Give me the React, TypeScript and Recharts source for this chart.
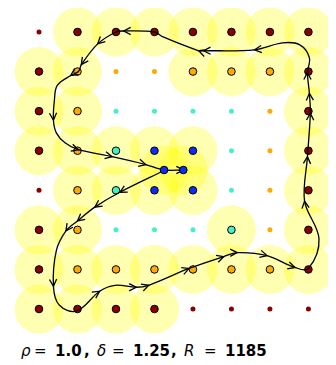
import { ScatterChart, Scatter, XAxis, YAxis } from "recharts";

// grid cells, row by row from the top: r = dark red, o = orange, t = turquoise, b = blue
const gridColours = [
  "rrrrrrrr",
  "roooooor",
  "rottttor",
  "rotbbtor",
  "rotbbtor",
  "rottttor",
  "roooooor",
  "rrrrrrrr",
];

// 1 = sensed cell (outlined dot inside a yellow disc)
const gridSensed = [
  "01111111",
  "11001111",
  "11000001",
  "11111001",
  "01111001",
  "11000101",
  "11111111",
  "11110000",
];

// trajectory in grid units (x = column, y = row from the top), in travel order
const pathX = [
  3.25, 2.1, 1.45, 1.0, 0.7, 0.45, 0.375, 0.525, 0.975, 1.575, 1.975, 2.525, 2.85,
  3.9, 4.8, 5.15, 5.925, 6.65, 7.0, 7.275, 6.9, 6.975, 7.05, 7.025, 6.975,
  7.025, 6.775, 6.325, 5.6, 4.275, 4.15, 3.225, 3.0, 2.2, 2.0, 1.525, 1.1,
  1.025, 0.825, 0.475, 0.4, 0.375, 0.45, 0.675, 1.025, 1.9, 2.775, 3.25, 3.75,
];
const pathY = [
  3.5, 4.05, 4.425, 4.775, 5.025, 5.525, 6.425, 6.9, 7.05, 6.55, 6.4, 6.45, 6.4,
  5.975, 5.675, 5.575, 5.65, 5.95, 5.975, 5.225, 4.275, 3.15, 2.05, 1.55, 1.025,
  0.65, 0.325, 0.275, 0.45, 0.475, 0.475, 0.125, 0.0, -0.025, 0.0, 0.3, 0.825,
  1.0, 1.1, 1.35, 1.725, 2.225, 2.55, 2.8, 2.975, 3.15, 3.35, 3.4875, 3.4875,
];
// 1 = arrow head at this waypoint
const pathArrow = [
  0, 1, 1, 1, 1, 0, 1, 0, 0, 1, 0, 1, 1,
  1, 1, 1, 1, 1, 0, 0, 1, 1, 1, 1, 1,
  0, 0, 0, 1, 1, 1, 0, 0, 1, 0, 1, 1,
  0, 1, 0, 0, 1, 0, 0, 1, 1, 1, 0, 1,
];

// the two robot positions at the end of the run
const endX = [3.25, 3.75];
const endY = [3.4875, 3.4875];

// caption pieces: text, italic, bold, left offset
const caption: [string, boolean, boolean, number][] = [
  ["ρ", true, false, 13],
  ["=", false, false, 26],
  ["1.0", false, true, 47],
  [",", false, true, 76],
  ["δ", true, false, 89],
  ["=", false, false, 104],
  ["1.25", false, true, 125],
  [",", false, true, 163],
  ["R", true, false, 176],
  ["=", false, false, 196],
  ["1185", false, true, 217],
];

const colourMap: Record<string, string> = {
  r: "#8b0000",
  o: "#ffaa00",
  t: "#45f0c8",
  b: "#0a2cff",
};

const gridPoints = gridColours.flatMap((row, j) =>
  row.split("").map((c, i) => ({
    x: i,
    y: j,
    colour: colourMap[c],
    sensed: gridSensed[j][i] === "1",
  }))
);

const endPoints = endX.map((x, k) => ({ x, y: endY[k], colour: colourMap.b, sensed: true }));

const discs = [...gridPoints.filter((p) => p.sensed), ...endPoints];

const pathPoints = pathX.map((x, k) => ({ x, y: pathY[k], arrow: pathArrow[k] === 1 }));

function Disc(props: any) {
  return <circle cx={props.cx} cy={props.cy} r={24.5} fill="#ffff00" fillOpacity={0.3} />;
}

function Dot(props: any) {
  const p = props.payload;
  if (p.sensed) {
    return <circle cx={props.cx} cy={props.cy} r={3.8} fill={p.colour} stroke="#000" strokeWidth={1} />;
  }
  return <circle cx={props.cx} cy={props.cy} r={2.5} fill={p.colour} />;
}

function renderPath(props: any) {
  const pts: { x: number; y: number }[] = props.points;
  const n = pts.length;
  const dirs = pts.map((_, i) => {
    const a = pts[Math.max(i - 1, 0)];
    const b = pts[Math.min(i + 1, n - 1)];
    const dx = b.x - a.x;
    const dy = b.y - a.y;
    const len = Math.hypot(dx, dy) || 1;
    return { x: dx / len, y: dy / len };
  });

  let d = `M${pts[0].x},${pts[0].y}`;
  for (let i = 0; i < n - 1; i++) {
    const p = pts[i];
    const q = pts[i + 1];
    const h = Math.hypot(q.x - p.x, q.y - p.y) / 3;
    d += ` C${p.x + dirs[i].x * h},${p.y + dirs[i].y * h} ${q.x - dirs[i + 1].x * h},${q.y - dirs[i + 1].y * h} ${q.x},${q.y}`;
  }

  const heads = pts
    .map((p, i) => {
      if (!pathPoints[i] || !pathPoints[i].arrow) return null;
      const u = dirs[i];
      const bx = p.x - u.x * 7;
      const by = p.y - u.y * 7;
      const px = -u.y * 3.6;
      const py = u.x * 3.6;
      return `M${bx + px},${by + py} L${p.x},${p.y} L${bx - px},${by - py}`;
    })
    .filter(Boolean)
    .join(" ");

  return (
    <g>
      <path d={d} fill="none" stroke="#000" strokeWidth={1.3} />
      <path d={heads} fill="none" stroke="#000" strokeWidth={1.3} strokeLinejoin="miter" />
    </g>
  );
}

export default function App() {
  return (
    <div style={{ position: "relative", width: 328, height: 357 }}>
      <ScatterChart width={328} height={330} margin={{ top: 23, right: 17, bottom: 27, left: 31 }}>
        <XAxis type="number" dataKey="x" domain={[0, 7]} hide />
        <YAxis type="number" dataKey="y" domain={[0, 7]} reversed hide />
        <Scatter data={discs} shape={<Disc />} isAnimationActive={false} />
        <Scatter data={gridPoints} shape={<Dot />} isAnimationActive={false} />
        <Scatter
          data={pathPoints}
          shape={() => <g />}
          line={renderPath}
          lineType="joint"
          isAnimationActive={false}
        />
        <Scatter data={endPoints} shape={<Dot />} isAnimationActive={false} />
      </ScatterChart>
      {caption.map(([t, it, bold, left], k) => (
        <span
          key={k}
          style={{
            position: "absolute",
            left,
            top: 335,
            fontFamily: "DejaVu Sans",
            fontSize: 15,
            lineHeight: "17px",
            fontStyle: it ? "italic" : "normal",
            fontWeight: bold ? "bold" : "normal",
            color: "#000",
          }}
        >
          {t}
        </span>
      ))}
    </div>
  );
}
